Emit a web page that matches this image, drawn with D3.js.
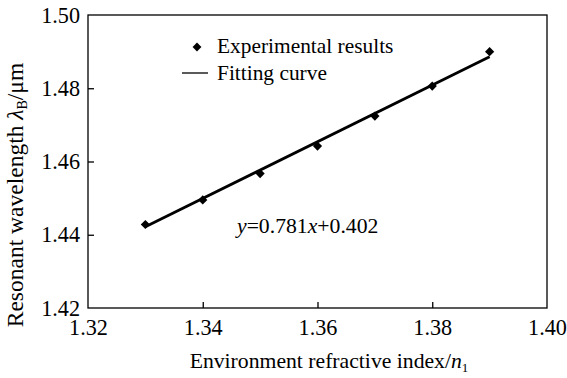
<!DOCTYPE html>
<html><head><meta charset="utf-8">
<script src="https://cdn.jsdelivr.net/npm/d3@7"></script>
<style>body{margin:0;background:#fff}svg{display:block}</style>
</head><body>
<svg id="c" width="567" height="378"></svg>
<script>
const refractiveIndex = [1.33, 1.34, 1.35, 1.36, 1.37, 1.38, 1.39];
const resonantWavelength = [1.4428, 1.4495, 1.4567, 1.4642, 1.4724, 1.4806, 1.4900];
const fitX = [1.33, 1.39];
const fitY = [1.4422, 1.4886];
const xTicks = [1.32, 1.34, 1.36, 1.38, 1.40];
const yTicks = [1.42, 1.44, 1.46, 1.48, 1.50];
const legendLabels = ["Experimental results", "Fitting curve"];

const FONT = "Liberation Serif";
const svg = d3.select("#c").attr("font-family", FONT);
const L = 88, R = 547, T = 15, B = 308;
const x = d3.scaleLinear().domain([1.32, 1.40]).range([L, R]);
const y = d3.scaleLinear().domain([1.42, 1.50]).range([B, T]);
const fs = 21.4, tfs = 22.2, yfs = 23.5;

svg.append("rect").attr("x", L).attr("y", T).attr("width", R - L).attr("height", B - T)
  .attr("fill", "none").attr("stroke", "#000").attr("stroke-width", 1.3);

const xAxis = svg.append("g").attr("transform", `translate(0,${B})`)
  .call(d3.axisBottom(x).tickValues(xTicks).tickSize(-6).tickPadding(11).tickFormat(d3.format(".2f")));
xAxis.attr("font-family", FONT).attr("font-size", tfs);
xAxis.select(".domain").remove();
xAxis.selectAll("text").attr("font-size", tfs).attr("font-family", FONT).attr("fill", "#000");
xAxis.selectAll("line").attr("stroke-width", 1.3);
xAxis.selectAll(".tick").filter(d => d === 1.32 || d === 1.40).select("line").remove();

const yAxis = svg.append("g").attr("transform", `translate(${L},0)`)
  .call(d3.axisLeft(y).tickValues(yTicks).tickSize(-6).tickPadding(8).tickFormat(d3.format(".2f")));
yAxis.attr("font-family", FONT).attr("font-size", tfs);
yAxis.select(".domain").remove();
yAxis.selectAll("text").attr("font-size", tfs).attr("font-family", FONT).attr("fill", "#000");
yAxis.selectAll("line").attr("stroke-width", 1.3);
yAxis.selectAll(".tick").filter(d => d === 1.42 || d === 1.50).select("line").remove();

// fit line
const line = d3.line().x(d => x(d[0])).y(d => y(d[1]));
svg.append("path").datum(d3.zip(fitX, fitY)).attr("d", line)
  .attr("fill", "none").attr("stroke", "#000").attr("stroke-width", 2.8);

// markers
const diamond = d3.symbol().type(d3.symbolDiamond2).size(54);
svg.selectAll(".pt").data(d3.zip(refractiveIndex, resonantWavelength)).join("path")
  .attr("d", diamond).attr("transform", d => `translate(${x(d[0])},${y(d[1])})`)
  .attr("fill", "#000");

// legend
svg.append("path").attr("d", d3.symbol().type(d3.symbolDiamond2).size(50))
  .attr("transform", "translate(197,47)").attr("fill", "#000");
svg.append("line").attr("x1", 182).attr("x2", 208).attr("y1", 73).attr("y2", 73)
  .attr("stroke", "#000").attr("stroke-width", 1.3);
svg.append("text").attr("x", 217).attr("y", 53).attr("font-family", FONT).attr("font-size", fs).text(legendLabels[0]);
svg.append("text").attr("x", 217).attr("y", 80).attr("font-family", FONT).attr("font-size", fs).text(legendLabels[1]);

// equation
const eq = svg.append("text").attr("x", 237).attr("y", 233).attr("font-family", FONT).attr("font-size", 21.7);
eq.append("tspan").attr("font-style", "italic").text("y");
eq.append("tspan").text("=0.781");
eq.append("tspan").attr("font-style", "italic").text("x");
eq.append("tspan").text("+0.402");

// x label
const xl = svg.append("text").attr("x", 329).attr("y", 368).attr("text-anchor", "middle").attr("font-family", FONT).attr("font-size", 21.7);
xl.append("tspan").text("Environment refractive index/");
xl.append("tspan").attr("font-style", "italic").text("n");
xl.append("tspan").attr("font-size", 13).attr("dy", 4).text("1");

// y label
const yl = svg.append("text").attr("transform", "translate(23,195) rotate(-90)").attr("text-anchor", "middle").attr("font-family", FONT).attr("font-size", yfs);
yl.append("tspan").text("Resonant wavelength ");
yl.append("tspan").attr("font-style", "italic").text("λ");
yl.append("tspan").attr("font-size", 14).attr("dy", 4).text("B");
yl.append("tspan").attr("dy", -4).text("/μm");
</script>
</body></html>
